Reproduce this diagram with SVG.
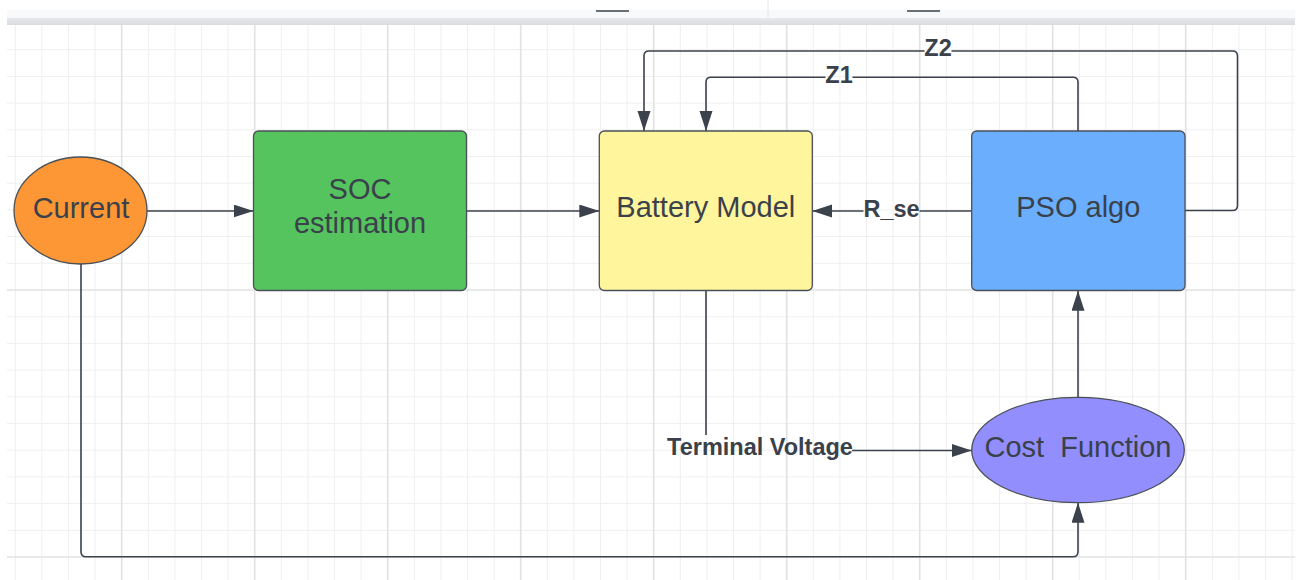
<svg xmlns="http://www.w3.org/2000/svg" width="1300" height="580" viewBox="0 0 1300 580">
<defs>
<style>
.minor{stroke:#efefef;stroke-width:1}
.major{stroke:#e2e2e3;stroke-width:1.6}
.node{stroke:#4a5057;stroke-width:1.3}
.txt{font-family:"Liberation Sans",Arial,sans-serif;font-size:29px;fill:#3a414a;text-anchor:middle}
.lbl{font-family:"Liberation Sans",Arial,sans-serif;font-size:23.5px;font-weight:bold;fill:#3a414a;text-anchor:middle}
.conn{fill:none;stroke:#3b424b;stroke-width:1.6}
</style>
<marker id="arr" markerUnits="userSpaceOnUse" markerWidth="21" markerHeight="14" refX="20" refY="6.5" orient="auto">
<path d="M0,0 L20,6.5 L0,13 z" fill="#3b424b"/>
</marker>
<linearGradient id="hdr" x1="0" y1="0" x2="0" y2="1">
<stop offset="0" stop-color="#e6e8eb"/>
<stop offset="1" stop-color="#d9dbde"/>
</linearGradient>
</defs>
<rect x="0" y="0" width="1300" height="580" fill="#ffffff"/>
<g id="header">
<rect x="7" y="10" width="1288" height="8" fill="#f8f9fb"/>
<rect x="7" y="18" width="1288" height="7" fill="url(#hdr)"/>
<line x1="768" y1="0" x2="768" y2="18" stroke="#e4e6e8" stroke-width="1"/>
<line x1="596" y1="11" x2="629" y2="11" stroke="#3a414a" stroke-width="1.6"/>
<line x1="907" y1="11" x2="940" y2="11" stroke="#3a414a" stroke-width="1.6"/>
</g>
<g id="grid">
<g class="minor">
<path d="M15.3,25V580M41.9,25V580M68.5,25V580M95.1,25V580M148.3,25V580M174.9,25V580M201.5,25V580M228.1,25V580M281.3,25V580M307.9,25V580M334.5,25V580M361.1,25V580M414.3,25V580M440.9,25V580M467.5,25V580M494.1,25V580M547.3,25V580M573.9,25V580M600.5,25V580M627.1,25V580M680.3,25V580M706.9,25V580M733.5,25V580M760.1,25V580M813.3,25V580M839.9,25V580M866.5,25V580M893.1,25V580M946.3,25V580M972.9,25V580M999.5,25V580M1026.1,25V580M1079.3,25V580M1105.9,25V580M1132.5,25V580M1159.1,25V580M1212.3,25V580M1238.9,25V580M1265.5,25V580M1292.1,25V580"/>
<path d="M7,49.7H1295M7,76.4H1295M7,103.1H1295M7,129.8H1295M7,156.5H1295M7,183.2H1295M7,209.9H1295M7,236.6H1295M7,263.3H1295M7,316.7H1295M7,343.4H1295M7,370.1H1295M7,396.8H1295M7,423.5H1295M7,450.2H1295M7,476.9H1295M7,503.6H1295M7,530.3H1295"/>
</g>
<g class="major">
<path d="M121.7,25V580M254.7,25V580M387.7,25V580M520.7,25V580M653.7,25V580M786.7,25V580M919.7,25V580M1052.7,25V580M1185.7,25V580"/>
<path d="M7,290H1295M7,557H1295"/>
</g>
</g>
<g id="connectors">
<path class="conn" d="M147,211H253.5" marker-end="url(#arr)"/>
<path class="conn" d="M466.7,211H599.3" marker-end="url(#arr)"/>
<path class="conn" d="M971.7,211H919.5"/>
<path class="conn" d="M863.5,211H812.3" marker-end="url(#arr)"/>
<text class="lbl" x="891.5" y="216.8">R_se</text>
<path class="conn" d="M1078,131V82.3Q1078,77.3 1073,77.3H852.5"/>
<path class="conn" d="M825.5,77.3H711Q706,77.3 706,82.3V131" marker-end="url(#arr)"/>
<text class="lbl" x="839" y="82.6">Z1</text>
<path class="conn" d="M1185,210.5H1232.5Q1237.5,210.5 1237.5,205.5V56Q1237.5,51 1232.5,51H951.5"/>
<path class="conn" d="M924.5,51H649Q644,51 644,56V131" marker-end="url(#arr)"/>
<text class="lbl" x="938" y="56.3">Z2</text>
<path class="conn" d="M706,290.7V435"/>
<path class="conn" d="M852,450.5H971.7" marker-end="url(#arr)"/>
<text class="lbl" x="760" y="455.3">Terminal Voltage</text>
<path class="conn" d="M81,264V551.7Q81,556.7 86,556.7H1073Q1078,556.7 1078,551.7V502.7" marker-end="url(#arr)"/>
<path class="conn" d="M1078,397.3V290.7" marker-end="url(#arr)"/>
</g>
<g id="current">
<ellipse class="node" cx="80.5" cy="210.5" rx="66.5" ry="53.5" fill="#fd9735"/>
<text class="txt" x="81" y="217.7">Current</text>
</g>
<g id="soc">
<rect class="node" x="253.5" y="131" width="213" height="159.5" rx="5" fill="#55c45f"/>
<text class="txt" x="360" y="199">SOC</text>
<text class="txt" x="360" y="233">estimation</text>
</g>
<g id="battery">
<rect class="node" x="599.3" y="131" width="213" height="159.5" rx="5" fill="#fff59d"/>
<text class="txt" x="705.8" y="216.5">Battery Model</text>
</g>
<g id="pso">
<rect class="node" x="971.7" y="131" width="213.3" height="159.5" rx="5" fill="#6aaefd"/>
<text class="txt" x="1078.3" y="216.7">PSO algo</text>
</g>
<g id="cost">
<ellipse class="node" cx="1078" cy="450" rx="106.3" ry="52.7" fill="#938efd"/>
<text class="txt" x="1078" y="456.7" xml:space="preserve">Cost  Function</text>
</g>
</svg>
